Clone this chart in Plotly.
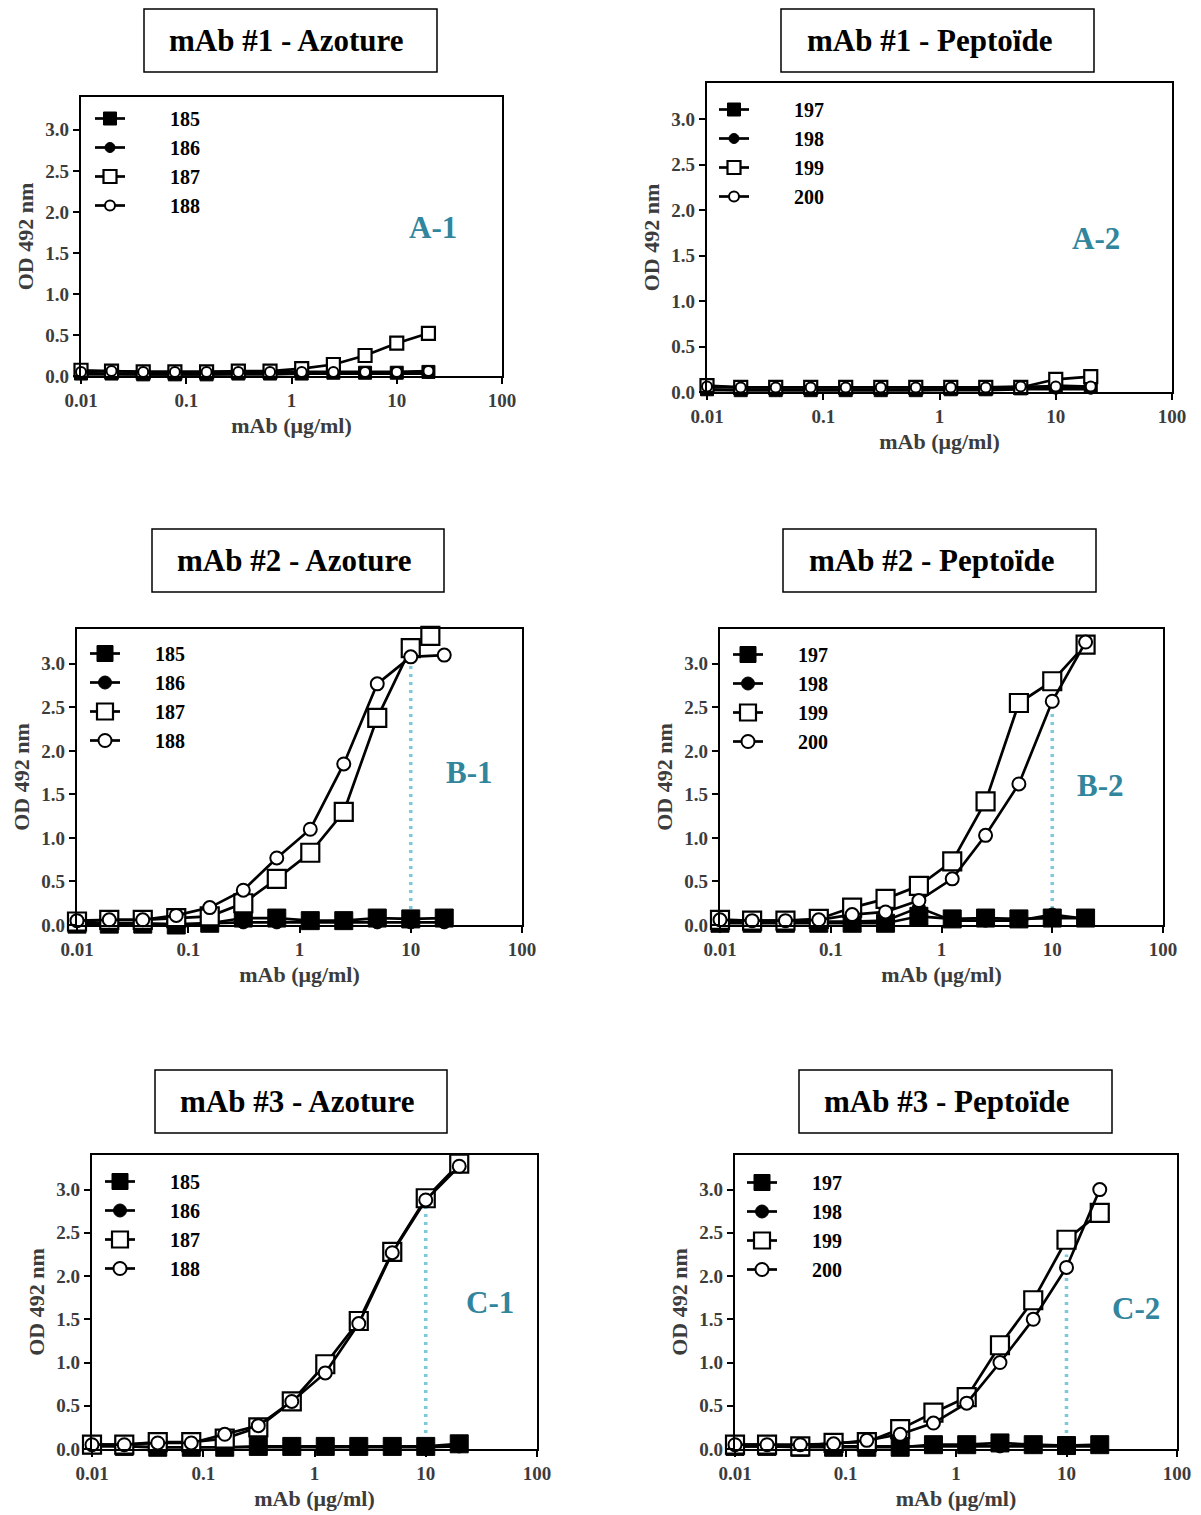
import plotly.graph_objects as go

W, H = 1201, 1515

# ---------------- data ----------------
conc = [0.01, 0.0195, 0.039, 0.078, 0.156, 0.3125, 0.625, 1.25, 2.5, 5, 10, 20]
conc_b1_187 = [0.01, 0.0195, 0.039, 0.078, 0.156, 0.3125, 0.625, 1.25, 2.5, 5, 10, 15]

names_1 = ["185", "186", "187", "188"]
names_2 = ["197", "198", "199", "200"]

a1_185 = [0.03, 0.03, 0.02, 0.02, 0.02, 0.03, 0.03, 0.03, 0.04, 0.04, 0.04, 0.05]
a1_186 = [0.02, 0.02, 0.02, 0.02, 0.02, 0.02, 0.02, 0.03, 0.03, 0.03, 0.03, 0.03]
a1_187 = [0.07, 0.06, 0.05, 0.05, 0.05, 0.06, 0.06, 0.09, 0.14, 0.25, 0.40, 0.52]
a1_188 = [0.05, 0.06, 0.05, 0.05, 0.05, 0.05, 0.05, 0.05, 0.05, 0.05, 0.05, 0.06]

a2_197 = [0.03, 0.02, 0.02, 0.02, 0.02, 0.02, 0.02, 0.03, 0.03, 0.04, 0.07, 0.06]
a2_198 = [0.02, 0.02, 0.02, 0.02, 0.02, 0.02, 0.02, 0.02, 0.02, 0.03, 0.03, 0.03]
a2_199 = [0.07, 0.05, 0.05, 0.05, 0.05, 0.05, 0.05, 0.05, 0.05, 0.05, 0.14, 0.17]
a2_200 = [0.06, 0.05, 0.05, 0.05, 0.05, 0.05, 0.05, 0.05, 0.05, 0.06, 0.06, 0.06]

b1_185 = [0.01, 0.01, 0.01, 0.00, 0.02, 0.08, 0.08, 0.05, 0.05, 0.08, 0.07, 0.08]
b1_186 = [0.02, 0.02, 0.02, 0.01, 0.02, 0.03, 0.03, 0.03, 0.03, 0.03, 0.03, 0.03]
b1_187 = [0.04, 0.06, 0.06, 0.08, 0.10, 0.25, 0.53, 0.83, 1.30, 2.38, 3.18, 3.32]
b1_188 = [0.05, 0.06, 0.06, 0.11, 0.20, 0.40, 0.77, 1.10, 1.85, 2.77, 3.08, 3.10]

b2_197 = [0.02, 0.02, 0.02, 0.02, 0.02, 0.02, 0.10, 0.07, 0.08, 0.07, 0.08, 0.08]
b2_198 = [0.04, 0.04, 0.04, 0.04, 0.04, 0.05, 0.20, 0.05, 0.05, 0.05, 0.12, 0.07]
b2_199 = [0.06, 0.05, 0.05, 0.07, 0.20, 0.30, 0.45, 0.73, 1.42, 2.55, 2.80, 3.22]
b2_200 = [0.06, 0.05, 0.05, 0.06, 0.12, 0.15, 0.28, 0.53, 1.03, 1.62, 2.57, 3.25]

c1_185 = [0.05, 0.03, 0.02, 0.02, 0.02, 0.03, 0.03, 0.03, 0.03, 0.03, 0.03, 0.06]
c1_186 = [0.03, 0.03, 0.02, 0.02, 0.02, 0.02, 0.02, 0.02, 0.02, 0.02, 0.02, 0.03]
c1_187 = [0.05, 0.05, 0.08, 0.08, 0.12, 0.25, 0.55, 0.98, 1.48, 2.28, 2.90, 3.30]
c1_188 = [0.05, 0.05, 0.07, 0.07, 0.17, 0.27, 0.55, 0.88, 1.45, 2.27, 2.88, 3.27]

c2_197 = [0.03, 0.03, 0.02, 0.02, 0.02, 0.02, 0.05, 0.05, 0.07, 0.05, 0.04, 0.05]
c2_198 = [0.03, 0.03, 0.03, 0.03, 0.03, 0.03, 0.03, 0.03, 0.03, 0.03, 0.03, 0.03]
c2_199 = [0.05, 0.05, 0.03, 0.07, 0.08, 0.23, 0.42, 0.60, 1.20, 1.72, 2.42, 2.73]
c2_200 = [0.05, 0.05, 0.05, 0.06, 0.10, 0.17, 0.30, 0.53, 1.00, 1.50, 2.10, 3.00]

cutoff_x = 10
cutoff_tops = {"B-1": 3.08, "B-2": 2.57, "C-1": 2.88, "C-2": 2.25}

xtick_vals = [0.01, 0.1, 1, 10, 100]
xtick_text = ["0.01", "0.1", "1", "10", "100"]
ytick_vals = [0.0, 0.5, 1.0, 1.5, 2.0, 2.5, 3.0]

titles = ["mAb #1 - Azoture", "mAb #1 - Peptoïde",
          "mAb #2 - Azoture", "mAb #2 - Peptoïde",
          "mAb #3 - Azoture", "mAb #3 - Peptoïde"]
labels = ["A-1", "A-2", "B-1", "B-2", "C-1", "C-2"]

# ---------------- layout geometry (pixels in the screenshot) ----------------
OFF = 8  # page body margin offset

def px(x):
    return (x - OFF) / W

def py(y):
    return 1 - (y - OFF) / H

# plot frames: (left, right, top, bottom) in pixels
frames = [
    (81, 502, 97, 376),
    (707, 1172, 83, 392),
    (77, 522, 629, 925),
    (720, 1163, 629, 925),
    (92, 537, 1155, 1449),
    (735, 1177, 1155, 1449),
]
title_boxes = [
    (144, 437, 9, 72),
    (781, 1094, 9, 72),
    (152, 444, 529, 592),
    (783, 1096, 529, 592),
    (155, 447, 1070, 1133),
    (799, 1112, 1070, 1133),
]
title_cx = [286, 929, 294, 931, 297, 946]
label_pos = [(433, 228), (1096, 238), (470, 772), (1100, 785), (490, 1302), (1136, 1308)]
legend_pos = [(90, 99), (714, 90), (85, 634), (728, 635), (100, 1162), (742, 1163)]
legend_pad = [4, 4, 3, 3, 3, 3]

panels = [
    (names_1, [a1_185, a1_186, a1_187, a1_188], [conc, conc, conc, conc], None),
    (names_2, [a2_197, a2_198, a2_199, a2_200], [conc, conc, conc, conc], None),
    (names_1, [b1_185, b1_186, b1_187, b1_188], [conc, conc, conc_b1_187, conc], "B-1"),
    (names_2, [b2_197, b2_198, b2_199, b2_200], [conc, conc, conc, conc], "B-2"),
    (names_1, [c1_185, c1_186, c1_187, c1_188], [conc, conc, conc, conc], "C-1"),
    (names_2, [c2_197, c2_198, c2_199, c2_200], [conc, conc, conc, conc], "C-2"),
]

SERIF = "Liberation Serif, Times New Roman, serif"
TEAL = "#31859C"
CYAN = "#7CC9DC"
GRAY = "#3c3c3c"

fig = go.Figure()
layout = dict(
    width=W, height=H,
    margin=dict(l=0, r=0, t=0, b=0, autoexpand=False),
    paper_bgcolor="white", plot_bgcolor="white",
    font=dict(family=SERIF, color="black"),
    shapes=[], annotations=[],
)

for i, (names, series, xs, cut) in enumerate(panels):
    k = i + 1
    xa = "x" if k == 1 else f"x{k}"
    ya = "y" if k == 1 else f"y{k}"
    lg = "legend" if k == 1 else f"legend{k}"
    small = i < 2
    sq = 13 if small else 18
    ci = 10 if small else 13
    styles = [
        dict(symbol="square", size=sq, color="black", line=dict(color="black", width=1)),
        dict(symbol="circle", size=ci, color="black", line=dict(color="black", width=1)),
        dict(symbol="square", size=sq, color="white", line=dict(color="black", width=2.2)),
        dict(symbol="circle", size=ci, color="white", line=dict(color="black", width=2)),
    ]
    if cut is not None:
        fig.add_trace(go.Scatter(
            x=[cutoff_x, cutoff_x], y=[0, cutoff_tops[cut]], mode="lines",
            line=dict(color=CYAN, width=3.5, dash="3px,5px"),
            xaxis=xa, yaxis=ya, showlegend=False, hoverinfo="skip"))
    pad = "\u2002" * legend_pad[i]
    for name, yv, xv, st in zip(names, series, xs, styles):
        fig.add_trace(go.Scatter(
            x=xv, y=yv, mode="lines+markers", name=pad + name,
            line=dict(color="black", width=2.7),
            marker=st, cliponaxis=False,
            xaxis=xa, yaxis=ya, legend=lg))

    l, r, t, b = frames[i]
    axis_common = dict(
        showline=True, linecolor="black", linewidth=2.2, mirror=True,
        showgrid=False, zeroline=False, ticks="outside", ticklen=6,
        tickwidth=1.5, tickcolor="black", automargin=False,
        tickfont=dict(family=SERIF, size=19, color=GRAY, weight="bold"),
    )
    layout["xaxis" if k == 1 else f"xaxis{k}"] = dict(
        axis_common, type="log", range=[-2, 2], domain=[px(l), px(r)],
        anchor=ya, tickvals=xtick_vals, ticktext=xtick_text,
        title=dict(text="mAb (\u03bcg/ml)", standoff=8,
                   font=dict(family=SERIF, size=22, color=GRAY, weight="bold")),
    )
    layout["yaxis" if k == 1 else f"yaxis{k}"] = dict(
        axis_common, range=[0, 3.4], domain=[py(b), py(t)], anchor=xa,
        tickvals=ytick_vals, tickformat=".1f",
        title=dict(text="OD 492 nm", standoff=6,
                   font=dict(family=SERIF, size=22, color=GRAY, weight="bold")),
    )
    lx, ly = legend_pos[i]
    layout[lg] = dict(
        x=px(lx), y=py(ly), xanchor="left", yanchor="top",
        bgcolor="rgba(0,0,0,0)", borderwidth=0, traceorder="normal",
        font=dict(family=SERIF, size=20, color="black", weight="bold"),
        tracegroupgap=0,
    )
    bl, br, bt, bb = title_boxes[i]
    layout["shapes"].append(dict(
        type="rect", xref="paper", yref="paper",
        x0=px(bl), x1=px(br), y0=py(bb), y1=py(bt),
        line=dict(color="black", width=1.5), fillcolor="white"))
    layout["annotations"].append(dict(
        text=titles[i], xref="paper", yref="paper",
        x=px(title_cx[i]), y=py((bt + bb) / 2), xanchor="center", yanchor="middle",
        showarrow=False, font=dict(family=SERIF, size=31, color="black", weight="bold")))
    lx2, ly2 = label_pos[i]
    layout["annotations"].append(dict(
        text=labels[i], xref="paper", yref="paper",
        x=px(lx2), y=py(ly2), xanchor="center", yanchor="middle",
        showarrow=False, font=dict(family=SERIF, size=31, color=TEAL, weight="bold")))

fig.update_layout(**layout)
fig.write_html("out.html")
